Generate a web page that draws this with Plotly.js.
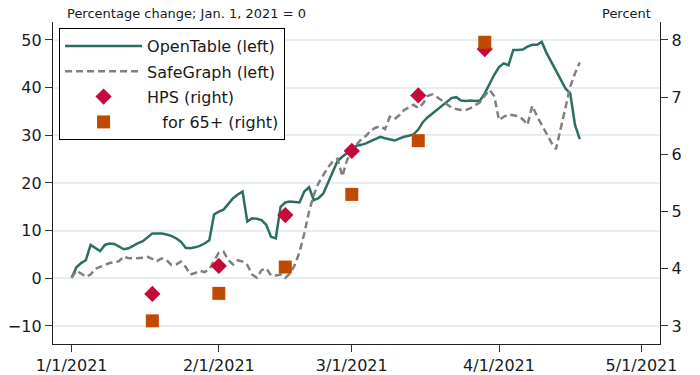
<!DOCTYPE html>
<html>
<head>
<meta charset="utf-8">
<script src="https://cdn.plot.ly/plotly-3.0.1.min.js"></script>
<style>html,body{margin:0;padding:0;background:#fff;}#chart{width:700px;height:375px;}</style>
</head>
<body>
<div id="chart"></div>
<script>
// Daily series start on this date (one value per day)
const seriesStart = '2021-01-01';

// OpenTable (left axis), percentage change vs Jan. 1, 2021
const openTable = [
  0.1, 2.3, 3.2, 3.8, 7.0, 6.3, 5.7, 7.0, 7.3, 7.2,
  6.7, 6.1, 6.3, 6.9, 7.4, 7.8, 8.7, 9.4, 9.4, 9.4,
  9.2, 8.9, 8.4, 7.7, 6.4, 6.3, 6.5, 6.8, 7.3, 8.0,
  13.4, 14.0, 14.4, 15.5, 16.8, 17.6, 18.2, 11.9, 12.6, 12.5,
  12.2, 11.2, 8.7, 8.4, 15.0, 15.9, 16.1, 16.0, 15.9, 18.2,
  19.1, 16.4, 16.8, 17.8, 20.0, 22.5, 24.6, 25.5, 26.3, 27.0,
  27.8, 28.0, 28.3, 28.8, 29.3, 29.7, 29.4, 29.1, 28.9, 29.3,
  29.7, 29.9, 30.2, 31.2, 32.8, 33.8, 34.6, 35.5, 36.4, 37.2,
  37.8, 38.0, 37.3, 37.2, 37.3, 37.2, 37.3, 38.8, 40.8, 42.7,
  44.3, 45.1, 44.7, 47.9, 47.9, 48.0, 48.6, 49.0, 49.0, 49.6,
  47.3, 45.5, 43.6, 41.8, 39.8, 38.8, 32.2, 29.2
];

// SafeGraph (left axis), percentage change vs Jan. 1, 2021
const safeGraph = [
  0.1, 1.6, 1.0, 0.3, 0.8, 2.0, 2.4, 2.8, 3.2, 3.4,
  3.6, 4.6, 4.2, 4.2, 4.2, 4.3, 4.5, 4.0, 3.6, 4.2,
  3.8, 2.8, 2.9, 3.5, 2.4, 0.8, 1.1, 1.6, 1.3, 1.9,
  3.8, 5.4, 5.6, 3.8, 2.9, 3.8, 3.5, 2.8, 0.8, 0.1,
  1.7, 2.1, 0.6, 0.6, 0.8, 0.1, 1.0, 2.8, 5.5, 9.4,
  14.0, 17.5, 20.0, 21.8, 23.3, 24.5, 25.1, 21.4, 24.8, 26.8,
  28.0, 29.2, 29.9, 31.0, 31.6, 31.9, 31.3, 33.9, 33.4, 34.2,
  35.3, 35.9, 36.4, 35.7, 36.7, 38.3, 38.6, 38.0, 37.3, 36.6,
  35.8, 35.5, 35.3, 35.3, 35.7, 36.3, 36.9, 38.3, 39.5, 38.2,
  33.2, 33.9, 34.4, 34.2, 34.0, 33.4, 32.2, 36.2, 34.0, 32.2,
  30.3, 28.5, 27.1, 31.5, 36.5, 40.2, 43.0, 45.3
];

// Household Pulse Survey (right axis), percent
const hpsDates = ['2021-01-18', '2021-02-01', '2021-02-15', '2021-03-01', '2021-03-15', '2021-03-29'];
const hpsAll = [3.56, 4.05, 4.94, 6.06, 7.03, 7.84];
const hps65 = [3.09, 3.57, 4.03, 5.30, 6.24, 7.96];

// Axis ticks
const xTickVals = ['2021-01-01', '2021-02-01', '2021-03-01', '2021-04-01', '2021-05-01'];
const xTickText = ['1/1/2021', '2/1/2021', '3/1/2021', '4/1/2021', '5/1/2021'];
const yLeftTicks = [-10, 0, 10, 20, 30, 40, 50];
const yRightTicks = [3, 4, 5, 6, 7, 8];

const seriesNames = ['OpenTable (left)', 'SafeGraph (left)', 'HPS (right)', '\u00a0\u00a0\u00a0for 65+ (right)'];

function dailyDates(start, n) {
  const d0 = new Date(start + 'T00:00:00Z');
  const out = [];
  for (let i = 0; i < n; i++) {
    const d = new Date(d0.getTime() + i * 86400000);
    out.push(d.toISOString().slice(0, 10));
  }
  return out;
}

const FONT = 'DejaVu Sans, Arial, sans-serif';
const TXT = '#1a1a1a';

const traces = [
  {
    x: dailyDates(seriesStart, openTable.length), y: openTable,
    name: seriesNames[0], type: 'scatter', mode: 'lines',
    line: {color: '#2d6e63', width: 2.5}, yaxis: 'y', legendgroup: 'a'
  },
  {
    x: dailyDates(seriesStart, safeGraph.length), y: safeGraph,
    name: seriesNames[1], type: 'scatter', mode: 'lines',
    line: {color: '#808080', width: 2.5, dash: '7px,4px'}, yaxis: 'y', legendgroup: 'b'
  },
  {
    x: hpsDates, y: hpsAll, name: seriesNames[2], type: 'scatter', mode: 'markers',
    marker: {symbol: 'diamond', size: 12.5, color: '#c50a3a'}, yaxis: 'y2', legendgroup: 'c'
  },
  {
    x: hpsDates, y: hps65, name: seriesNames[3], type: 'scatter', mode: 'markers',
    marker: {symbol: 'square', size: 13, color: '#c04b00'}, yaxis: 'y2', legendgroup: 'd'
  }
];

const layout = {
  width: 700, height: 375,
  margin: {l: 53, r: 40, t: 22, b: 31, pad: 0},
  paper_bgcolor: '#ffffff', plot_bgcolor: '#ffffff',
  font: {family: FONT, size: 16, color: TXT},
  showlegend: true,
  legend: {
    x: 0.01, y: 0.981, xanchor: 'left', yanchor: 'top',
    bordercolor: '#000000', borderwidth: 1, bgcolor: '#ffffff',
    font: {family: FONT, size: 16, color: TXT},
    tracegroupgap: 1.5, itemwidth: 77
  },
  xaxis: {
    type: 'date',
    range: ['2020-12-28 02:00', '2021-05-04 21:36'],
    tickmode: 'array', tickvals: xTickVals, ticktext: xTickText,
    showgrid: false, zeroline: false,
    showline: true, linecolor: '#222', linewidth: 1.2,
    ticks: 'outside', ticklen: 7, tickcolor: '#333', tickwidth: 1,
    tickfont: {family: FONT, size: 16, color: TXT}
  },
  yaxis: {
    range: [-13.78, 53.77],
    tickmode: 'array', tickvals: yLeftTicks,
    showgrid: true, gridcolor: '#e6eef2', gridwidth: 2,
    zeroline: false,
    showline: true, linecolor: '#222', linewidth: 1.2,
    ticks: 'outside', ticklen: 7, tickcolor: '#333', tickwidth: 1,
    tickfont: {family: FONT, size: 16, color: TXT}
  },
  yaxis2: {
    overlaying: 'y', side: 'right',
    range: [2.685, 8.314],
    tickmode: 'array', tickvals: yRightTicks,
    showgrid: false, zeroline: false,
    showline: true, linecolor: '#222', linewidth: 1.2,
    ticks: 'outside', ticklen: 7, tickcolor: '#333', tickwidth: 1,
    tickfont: {family: FONT, size: 16, color: TXT}
  },
  annotations: [
    {
      text: 'Percentage change; Jan. 1, 2021 = 0', xref: 'paper', yref: 'paper',
      x: 0.0198, y: 1.026, xanchor: 'left', yanchor: 'middle', showarrow: false,
      font: {family: FONT, size: 13, color: TXT}
    },
    {
      text: 'Percent', xref: 'paper', yref: 'paper',
      x: 0.988, y: 1.025, xanchor: 'right', yanchor: 'middle', showarrow: false,
      font: {family: FONT, size: 13, color: TXT}
    }
  ]
};

Plotly.newPlot('chart', traces, layout, {staticPlot: true, displayModeBar: false});
</script>
</body>
</html>
